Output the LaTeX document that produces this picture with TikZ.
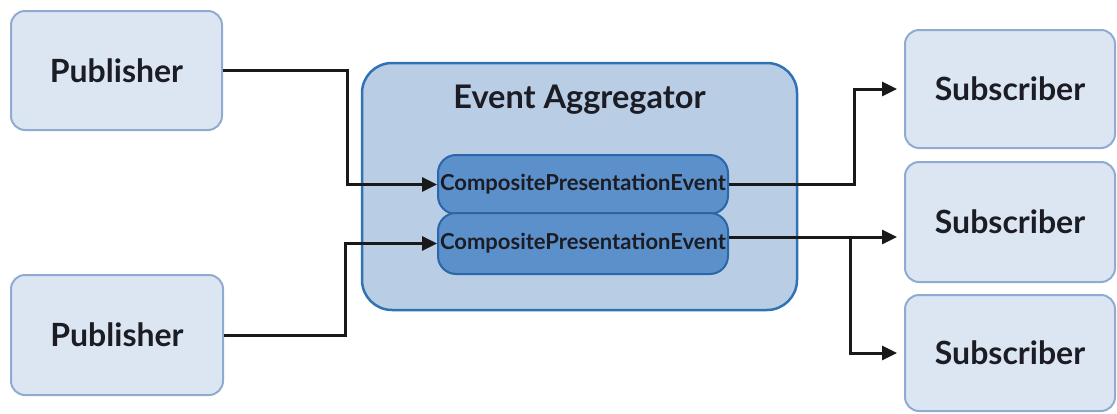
\documentclass[tikz,border=0pt]{standalone}
\usepackage{fontspec}
\setmainfont{Lato}
\usetikzlibrary{arrows.meta,calc}
\definecolor{lightfill}{HTML}{DCE6F2}
\definecolor{lightdraw}{HTML}{8FABD1}
\definecolor{aggfill}{HTML}{B9CDE5}
\definecolor{aggdraw}{HTML}{2F73B5}
\definecolor{evfill}{HTML}{5B90CB}
\definecolor{evdraw}{HTML}{2A67A8}
\definecolor{txt}{HTML}{1C1C24}
\tikzset{
  actor/.style={draw=lightdraw, fill=lightfill, line width=2pt, rounded corners=14pt, inner sep=0pt, text=txt, font=\bfseries\fontsize{32}{36}\selectfont},
  agg/.style={draw=aggdraw, fill=aggfill, line width=2.5pt, rounded corners=30pt, inner sep=0pt},
  evbox/.style={draw=evdraw, fill=evfill, line width=2pt, rounded corners=18pt, inner sep=0pt, text=txt, font=\bfseries\fontsize{22}{26}\selectfont},
  conn/.style={line width=3pt, draw=black!90, -{Triangle[length=15pt,width=14pt]}},
}
\begin{document}
\begin{tikzpicture}[x=1pt,y=-1pt]
\useasboundingbox (0,0) rectangle (1117,413);
\begin{scope}
\clip (0,0) rectangle (1117,413);
\node[actor, minimum width=211pt, minimum height=119pt] (p1) at (116.5,70.5) {Publisher};
\node[actor, minimum width=212pt, minimum height=120pt] (p2) at (117,335) {Publisher};
\node[agg, minimum width=435pt, minimum height=247pt] (agg) at (579.5,186.5) {};
\node[font=\bfseries\fontsize{32.5}{36}\selectfont, text=txt] (title) at (579.5,100) {Event Aggregator};
\node[evbox, minimum width=290pt, minimum height=59pt] (c1) at (583,184.5) {CompositePresentationEvent};
\node[evbox, minimum width=290pt, minimum height=61pt] (c2) at (583,243.5) {CompositePresentationEvent};
\node[actor, minimum width=210pt, minimum height=118pt] (s1) at (1010,89) {Subscriber};
\node[actor, minimum width=210pt, minimum height=120pt] (s2) at (1010,222) {Subscriber};
\node[actor, minimum width=210pt, minimum height=116pt] (s3) at (1010,353) {Subscriber};
\end{scope}
\coordinate (c2out) at ($(c2.east)+(0,-6.5)$);
\coordinate (s2in) at (s2.west |- c2out);
\coordinate (branch) at (850,0);
\draw[conn] (p1.east) -- (347,0 |- p1.east) |- (c1.west);
\draw[conn] (p2.east) -- (345,0 |- p2.east) |- (c2.west);
\draw[conn, shorten >=7pt] (c1.east) -- (854,0 |- c1.east) |- (s1.west);
\draw[conn, shorten >=7pt] (c2out) -- (s2in);
\draw[conn, shorten >=7pt] (branch |- c2out) |- (s3.west);
\end{tikzpicture}
\end{document}
